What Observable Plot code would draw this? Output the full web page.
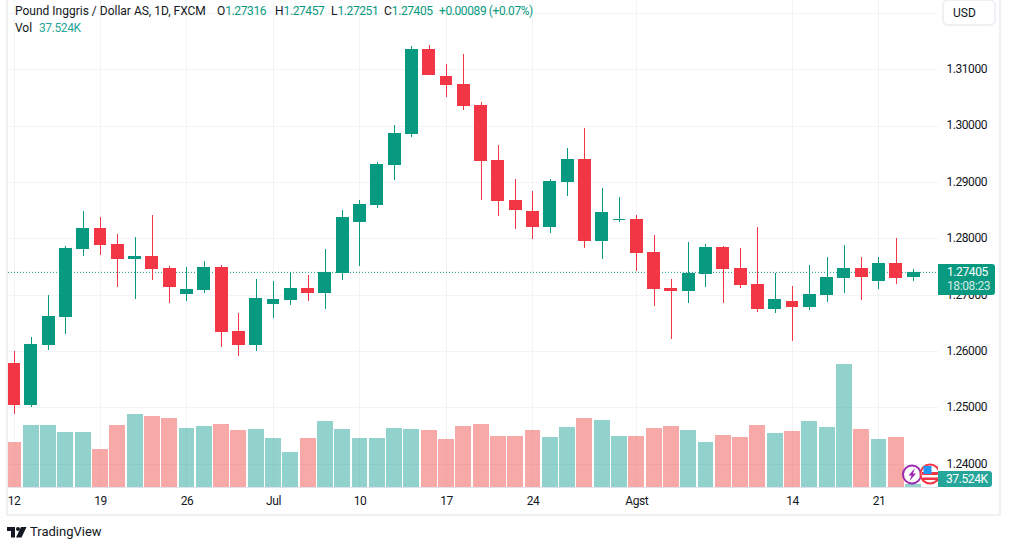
<!DOCTYPE html>
<html><head><meta charset="utf-8">
<script src="https://cdn.jsdelivr.net/npm/d3@7"></script>
<script src="https://cdn.jsdelivr.net/npm/@observablehq/plot@0.6"></script>
<style>
html,body{margin:0;padding:0;background:#fff;overflow:hidden}
#root{position:relative;width:1009px;height:549px;font-family:Roboto,sans-serif;font-size:12px;color:#131722}
#root svg{position:absolute;left:0;top:0;background:transparent}
#root svg text{letter-spacing:-.45px}
.a{position:absolute;white-space:nowrap;line-height:16px}
.g{color:#089981}
.n{letter-spacing:-.4px}
</style></head><body><div id="root"></div>
<script>
const opens=[1.2579,1.2504,1.2611,1.2660,1.2781,1.2818,1.2790,1.2763,1.2769,1.2747,1.2701,1.2708,1.2749,1.2635,1.2611,1.2683,1.2690,1.2712,1.2703,1.2738,1.2829,1.2859,1.2930,1.2985,1.3136,1.3088,1.3074,1.3037,1.2939,1.2868,1.2848,1.2820,1.2900,1.2941,1.2795,1.2832,1.2834,1.2776,1.2712,1.2706,1.2737,1.2785,1.2747,1.2719,1.2675,1.2689,1.2678,1.2699,1.2730,1.2747,1.2724,1.2756,1.27316];
const highs=[1.2600,1.2625,1.2699,1.2786,1.2848,1.2838,1.2808,1.2802,1.2841,1.2751,1.2749,1.2760,1.2753,1.2667,1.2728,1.2724,1.2740,1.2735,1.2781,1.2850,1.2868,1.2935,1.3001,1.3141,1.3143,1.3109,1.3127,1.3042,1.2966,1.2905,1.2884,1.2905,1.2960,1.2996,1.2889,1.2873,1.2841,1.2806,1.2728,1.2793,1.2790,1.2786,1.2783,1.2820,1.2738,1.2715,1.2753,1.2767,1.2788,1.2767,1.2767,1.2801,1.27457];
const lows=[1.2488,1.2501,1.2602,1.2630,1.2769,1.2770,1.2714,1.2692,1.2726,1.2685,1.2689,1.2703,1.2607,1.2591,1.2600,1.2659,1.2682,1.2689,1.2675,1.2726,1.2751,1.2854,1.2903,1.2980,1.3090,1.3051,1.3028,1.2868,1.2840,1.2817,1.2799,1.2809,1.2875,1.2783,1.2763,1.2829,1.2742,1.2680,1.2621,1.2685,1.2714,1.2685,1.2712,1.2669,1.2667,1.2618,1.2673,1.2687,1.2703,1.2690,1.2710,1.2719,1.27251];
const closes=[1.2504,1.2612,1.2662,1.2783,1.2818,1.2788,1.2763,1.2769,1.2746,1.2714,1.2710,1.2749,1.2634,1.2611,1.2694,1.2692,1.2712,1.2703,1.2740,1.2838,1.2861,1.2932,1.2987,1.3136,1.3090,1.3072,1.3035,1.2937,1.2866,1.2850,1.2820,1.2902,1.2941,1.2795,1.2847,1.2834,1.2774,1.2710,1.2706,1.2738,1.2785,1.2746,1.2717,1.2675,1.2692,1.2678,1.2701,1.2731,1.2747,1.2731,1.2756,1.2730,1.27405];
const volumesK=[512,705,705,625,625,432,705,830,807,785,671,694,716,648,660,557,398,557,750,660,557,557,671,660,648,546,694,716,580,580,648,569,682,785,762,580,580,671,694,648,512,591,569,705,614,637,750,682,1399,660,546,569,37.524];
const priceTicks=[1.24,1.25,1.26,1.27,1.28,1.29,1.30,1.31];
const priceGrid=[...priceTicks,1.32];
const timeTickIndex=[0,5,10,15,20,25,30,36,45,50];
const timeTickLabels=["12","19","26","Jul","10","17","24","Agst","14","21"];
const lastClose=closes[closes.length-1];
const rows=opens.map((o,i)=>({i,o,h:highs[i],l:lows[i],c:closes[i],v:volumesK[i],up:closes[i]>=o}));
const UP="#089981",DOWN="#F23645",VUP="#26a69a",VDOWN="#ef5350",GRID="#f2f3f6";
const xDomain=[-0.318,53.44];
const common={width:1009,height:549,marginLeft:8,marginRight:71,marginTop:0,marginBottom:62,
  x:{domain:xDomain,axis:null},style:{background:"transparent",color:"#131722",fontFamily:'Roboto,sans-serif',fontSize:"12px"}};
const pricePlot=Plot.plot({...common,
  y:{domain:[1.23586,1.3223],axis:null},
  marks:[
    Plot.gridX(timeTickIndex,{stroke:GRID,strokeOpacity:1,strokeWidth:1,shapeRendering:"crispEdges"}),
    Plot.gridY(priceGrid,{stroke:GRID,strokeOpacity:1,strokeWidth:1,shapeRendering:"crispEdges"}),
    Plot.ruleY([lastClose],{stroke:UP,strokeWidth:1,strokeDasharray:"1 2"}),
    Plot.ruleX(rows,{x:"i",y1:"l",y2:"h",stroke:d=>d.up?UP:DOWN,strokeWidth:1,shapeRendering:"crispEdges"}),
    Plot.rect(rows,{x1:d=>d.i-0.375,x2:d=>d.i+0.375,y1:d=>Math.min(d.o,d.c),y2:d=>Math.max(d.o,d.c),fill:d=>d.up?UP:DOWN,shapeRendering:"crispEdges",inset:0}),
    Plot.axisY(priceTicks,{anchor:"right",tickSize:0,tickPadding:8,tickFormat:d=>d.toFixed(5),label:null,fontSize:12,dy:-0.5}),
    Plot.axisX(timeTickIndex,{anchor:"bottom",tickSize:0,tickPadding:9,tickFormat:d=>timeTickLabels[timeTickIndex.indexOf(d)],label:null,fontSize:12})
  ]});
const volumePlot=Plot.plot({...common,
  y:{domain:[0,487*11.37],axis:null},
  marks:[
    Plot.rect(rows,{x1:d=>d.i-0.46,x2:d=>d.i+0.46,y1:0,y2:"v",fill:d=>d.up?VUP:VDOWN,fillOpacity:0.5,shapeRendering:"crispEdges"}),
    Plot.ruleY([0],{stroke:"#e0e3eb",strokeWidth:1,shapeRendering:"crispEdges"})
  ]});
const root=document.getElementById("root");
root.append(pricePlot,volumePlot);
const overlay=document.createElement("div");
overlay.innerHTML=`
<div class="a" style="left:6px;top:-3px;width:991px;height:515px;border:2px solid #eff0f4"></div>
<div class="a" style="left:15px;top:3px">Pound Inggris / Dollar AS, 1D, FXCM</div>
<div class="a" style="left:217px;top:3px">O<span class="g n">1.27316</span></div>
<div class="a" style="left:275px;top:3px">H<span class="g n">1.27457</span></div>
<div class="a" style="left:331px;top:3px">L<span class="g n">1.27251</span></div>
<div class="a" style="left:384px;top:3px">C<span class="g n">1.27405</span></div>
<div class="a g n" style="left:439px;top:3px">+0.00089 (+0.07%)</div>
<div class="a" style="left:15px;top:20px">Vol</div>
<div class="a n" style="left:39px;top:20px;color:#26a69a">37.524K</div>
<div class="a" style="left:942px;top:-1px;width:50px;height:23px;border:2px solid #eff0f4;border-radius:6px;background:#fff;line-height:25px;text-indent:9px">USD</div>
<div class="a n" style="left:938px;top:264px;width:57px;height:31px;background:#089981;border-radius:0 3px 3px 0;color:#fff;line-height:13px">
  <div style="position:absolute;left:9px;top:2px">1.27405</div>
  <div style="position:absolute;left:9px;top:16px;opacity:.8">18:08:23</div></div>
<div class="a n" style="left:938px;top:471px;width:54px;height:16px;background:#26a69a;border-radius:0 3px 3px 0;color:#fff;text-indent:8px">37.524K</div>
<svg style="left:900px;top:462px" width="38" height="25" viewBox="0 0 38 25">
  <circle cx="12" cy="12.5" r="9" fill="#fff" stroke="#9c27b0" stroke-width="2"/>
  <path d="M15 6l-6.5 7.5h3L9.5 19l6.5-7.5h-3z" fill="#9c27b0"/>
  <clipPath id="fl"><rect x="0" y="0" width="38" height="25"/></clipPath>
  <circle cx="30" cy="12" r="9.5" fill="#fff" stroke="#F23645" stroke-width="2"/>
  <g clip-path="url(#fl)">
  <rect x="22" y="10" width="16" height="3" fill="#F23645"/><rect x="23" y="15.5" width="15" height="2.5" fill="#F23645"/>
  <rect x="23.5" y="4" width="8" height="8" fill="#2196f3"/></g>
</svg>
<svg style="left:7px;top:527px" width="20" height="11" viewBox="0 0 20 11"><path d="M0 0h8v10.5H4V4H0zM14 0h5.5l-5 10.5H9z" fill="#131722"/><circle cx="11" cy="2" r="2" fill="#131722"/></svg>
<div class="a" style="left:30px;top:524px;font-size:13px">TradingView</div>`;
root.append(overlay);
</script></body></html>
